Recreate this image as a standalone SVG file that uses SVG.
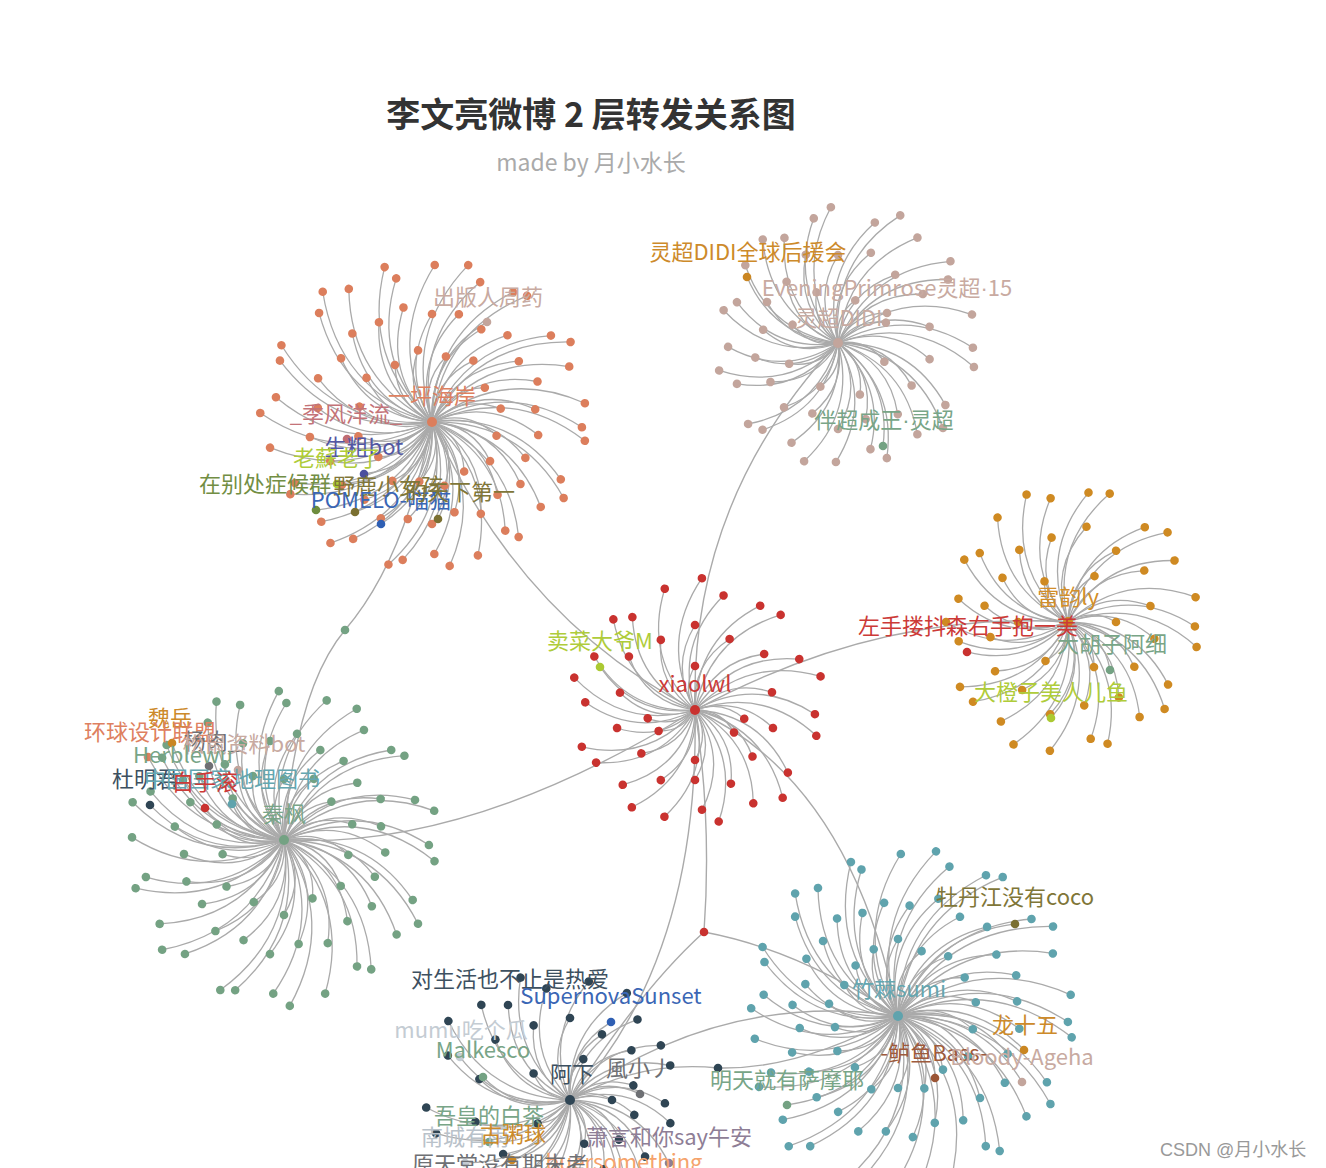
<svg xmlns="http://www.w3.org/2000/svg" xmlns:xlink="http://www.w3.org/1999/xlink" width="1326" height="1168" viewBox="0 0 1326 1168">
<style>
text{font-family:"Noto Sans CJK SC","Microsoft YaHei",sans-serif;font-size:22px;text-anchor:middle}
.ie{fill:none;stroke:#aaa;stroke-width:1.4}
.md{font-family:"Liberation Sans",sans-serif}
</style>
<defs>
<path id="c" d="M0,0Q.5,-.3 1,0" fill="none" stroke="#aaa" stroke-width="1.3" vector-effect="non-scaling-stroke"/>
</defs>
<rect width="1326" height="1168" fill="#fff"/>
<g id="connectors">
<g transform="translate(432,422)">
<use href="#c" transform="rotate(2)scale(150)"/><use href="#c" transform="rotate(7)scale(154)"/><use href="#c" transform="rotate(24)scale(141)"/><use href="#c" transform="rotate(30)scale(152)"/><use href="#c" transform="rotate(38)scale(138)"/><use href="#c" transform="rotate(53)scale(144)"/><use href="#c" transform="rotate(56)scale(131)"/><use href="#c" transform="rotate(71)scale(141)"/><use href="#c" transform="rotate(83)scale(145)"/><use href="#c" transform="rotate(89)scale(132)"/><use href="#c" transform="rotate(102)scale(141)"/><use href="#c" transform="rotate(107)scale(149)"/><use href="#c" transform="rotate(124)scale(141)"/><use href="#c" transform="rotate(130)scale(158)"/><use href="#c" transform="rotate(138)scale(149)"/><use href="#c" transform="rotate(153)scale(159)"/><use href="#c" transform="rotate(156)scale(150)"/><use href="#c" transform="rotate(171)scale(164)"/><use href="#c" transform="rotate(183)scale(172)"/><use href="#c" transform="rotate(189)scale(158)"/><use href="#c" transform="rotate(202)scale(164)"/><use href="#c" transform="rotate(207)scale(169)"/><use href="#c" transform="rotate(224)scale(157)"/><use href="#c" transform="rotate(230)scale(170)"/><use href="#c" transform="rotate(238)scale(157)"/><use href="#c" transform="rotate(253)scale(162)"/><use href="#c" transform="rotate(256)scale(148)"/><use href="#c" transform="rotate(271)scale(157)"/><use href="#c" transform="rotate(283)scale(161)"/><use href="#c" transform="rotate(289)scale(148)"/><use href="#c" transform="rotate(302)scale(153)"/><use href="#c" transform="rotate(307)scale(158)"/><use href="#c" transform="rotate(324)scale(147)"/><use href="#c" transform="rotate(330)scale(160)"/><use href="#c" transform="rotate(338)scale(148)"/><use href="#c" transform="rotate(353)scale(154)"/>
<use href="#c" transform="rotate(7)scale(107)"/><use href="#c" transform="rotate(21)scale(100)"/><use href="#c" transform="rotate(35)scale(108)"/><use href="#c" transform="rotate(48)scale(98)"/><use href="#c" transform="rotate(62)scale(104)"/><use href="#c" transform="rotate(76)scale(93)"/><use href="#c" transform="rotate(90)scale(102)"/><use href="#c" transform="rotate(104)scale(100)"/><use href="#c" transform="rotate(118)scale(109)"/><use href="#c" transform="rotate(131)scale(103)"/><use href="#c" transform="rotate(145)scale(110)"/><use href="#c" transform="rotate(159)scale(109)"/><use href="#c" transform="rotate(173)scale(123)"/><use href="#c" transform="rotate(187)scale(115)"/><use href="#c" transform="rotate(201)scale(122)"/><use href="#c" transform="rotate(215)scale(111)"/><use href="#c" transform="rotate(228)scale(119)"/><use href="#c" transform="rotate(242)scale(113)"/><use href="#c" transform="rotate(256)scale(118)"/><use href="#c" transform="rotate(270)scale(108)"/><use href="#c" transform="rotate(284)scale(111)"/><use href="#c" transform="rotate(298)scale(105)"/><use href="#c" transform="rotate(311)scale(115)"/><use href="#c" transform="rotate(325)scale(106)"/><use href="#c" transform="rotate(339)scale(113)"/><use href="#c" transform="rotate(353)scale(104)"/>
<use href="#c" transform="rotate(12)scale(66)"/><use href="#c" transform="rotate(34)scale(70)"/><use href="#c" transform="rotate(57)scale(59)"/><use href="#c" transform="rotate(79)scale(65)"/><use href="#c" transform="rotate(102)scale(61)"/><use href="#c" transform="rotate(124)scale(71)"/><use href="#c" transform="rotate(147)scale(64)"/><use href="#c" transform="rotate(169)scale(75)"/><use href="#c" transform="rotate(192)scale(74)"/><use href="#c" transform="rotate(214)scale(79)"/><use href="#c" transform="rotate(237)scale(68)"/><use href="#c" transform="rotate(259)scale(73)"/><use href="#c" transform="rotate(282)scale(67)"/><use href="#c" transform="rotate(304)scale(74)"/><use href="#c" transform="rotate(327)scale(63)"/><use href="#c" transform="rotate(349)scale(70)"/>
<use href="#c" transform="rotate(-61.2)scale(114)"/><use href="#c" transform="rotate(168.7)scale(86.7)"/><use href="#c" transform="rotate(142.6)scale(85.6)"/><use href="#c" transform="rotate(146.9)scale(113.4)"/><use href="#c" transform="rotate(142.8)scale(145.6)"/><use href="#c" transform="rotate(130.6)scale(118.4)"/><use href="#c" transform="rotate(116.6)scale(114)"/><use href="#c" transform="rotate(86.5)scale(97.2)"/>
</g>
<g transform="translate(838,343)">
<use href="#c" transform="rotate(2)scale(135)"/><use href="#c" transform="rotate(10)scale(138)"/><use href="#c" transform="rotate(30)scale(124)"/><use href="#c" transform="rotate(39)scale(135)"/><use href="#c" transform="rotate(49)scale(121)"/><use href="#c" transform="rotate(67)scale(125)"/><use href="#c" transform="rotate(73)scale(111)"/><use href="#c" transform="rotate(91)scale(119)"/><use href="#c" transform="rotate(106)scale(123)"/><use href="#c" transform="rotate(115)scale(110)"/><use href="#c" transform="rotate(131)scale(115)"/><use href="#c" transform="rotate(138)scale(121)"/><use href="#c" transform="rotate(158)scale(109)"/><use href="#c" transform="rotate(167)scale(122)"/><use href="#c" transform="rotate(178)scale(110)"/><use href="#c" transform="rotate(196)scale(119)"/><use href="#c" transform="rotate(202)scale(109)"/><use href="#c" transform="rotate(220)scale(121)"/><use href="#c" transform="rotate(234)scale(128)"/><use href="#c" transform="rotate(243)scale(118)"/><use href="#c" transform="rotate(259)scale(127)"/><use href="#c" transform="rotate(267)scale(136)"/><use href="#c" transform="rotate(287)scale(126)"/><use href="#c" transform="rotate(296)scale(142)"/><use href="#c" transform="rotate(307)scale(132)"/><use href="#c" transform="rotate(324)scale(139)"/><use href="#c" transform="rotate(330)scale(127)"/><use href="#c" transform="rotate(348)scale(137)"/>
<use href="#c" transform="rotate(10)scale(93)"/><use href="#c" transform="rotate(30)scale(85)"/><use href="#c" transform="rotate(50)scale(93)"/><use href="#c" transform="rotate(70)scale(81)"/><use href="#c" transform="rotate(90)scale(86)"/><use href="#c" transform="rotate(110)scale(75)"/><use href="#c" transform="rotate(130)scale(84)"/><use href="#c" transform="rotate(150)scale(78)"/><use href="#c" transform="rotate(170)scale(84)"/><use href="#c" transform="rotate(190)scale(76)"/><use href="#c" transform="rotate(210)scale(82)"/><use href="#c" transform="rotate(230)scale(80)"/><use href="#c" transform="rotate(250)scale(94)"/><use href="#c" transform="rotate(270)scale(88)"/><use href="#c" transform="rotate(290)scale(96)"/><use href="#c" transform="rotate(310)scale(89)"/><use href="#c" transform="rotate(330)scale(98)"/><use href="#c" transform="rotate(350)scale(93)"/>
<use href="#c" transform="rotate(22)scale(50)"/><use href="#c" transform="rotate(67)scale(56)"/><use href="#c" transform="rotate(112)scale(47)"/><use href="#c" transform="rotate(157)scale(53)"/><use href="#c" transform="rotate(202)scale(49)"/><use href="#c" transform="rotate(247)scale(55)"/><use href="#c" transform="rotate(292)scale(46)"/><use href="#c" transform="rotate(337)scale(52)"/>
<use href="#c" transform="rotate(216)scale(112.4)"/><use href="#c" transform="rotate(328.5)scale(57.5)"/><use href="#c" transform="rotate(66.4)scale(112.4)"/>
</g>
<g transform="translate(695,710)">
<use href="#c" transform="rotate(2)scale(120)"/><use href="#c" transform="rotate(12)scale(124)"/><use href="#c" transform="rotate(34)scale(112)"/><use href="#c" transform="rotate(45)scale(124)"/><use href="#c" transform="rotate(58)scale(110)"/><use href="#c" transform="rotate(78)scale(114)"/><use href="#c" transform="rotate(86)scale(100)"/><use href="#c" transform="rotate(106)scale(111)"/><use href="#c" transform="rotate(123)scale(116)"/><use href="#c" transform="rotate(134)scale(104)"/><use href="#c" transform="rotate(152)scale(112)"/><use href="#c" transform="rotate(162)scale(119)"/><use href="#c" transform="rotate(184)scale(110)"/><use href="#c" transform="rotate(195)scale(125)"/><use href="#c" transform="rotate(208)scale(114)"/><use href="#c" transform="rotate(228)scale(122)"/><use href="#c" transform="rotate(236)scale(112)"/><use href="#c" transform="rotate(256)scale(125)"/><use href="#c" transform="rotate(273)scale(132)"/><use href="#c" transform="rotate(284)scale(118)"/><use href="#c" transform="rotate(302)scale(123)"/><use href="#c" transform="rotate(312)scale(128)"/><use href="#c" transform="rotate(334)scale(116)"/><use href="#c" transform="rotate(345)scale(130)"/>
<use href="#c" transform="rotate(13)scale(80)"/><use href="#c" transform="rotate(39)scale(74)"/><use href="#c" transform="rotate(64)scale(82)"/><use href="#c" transform="rotate(90)scale(70)"/><use href="#c" transform="rotate(116)scale(78)"/><use href="#c" transform="rotate(141)scale(69)"/><use href="#c" transform="rotate(167)scale(80)"/><use href="#c" transform="rotate(193)scale(77)"/><use href="#c" transform="rotate(219)scale(85)"/><use href="#c" transform="rotate(244)scale(78)"/><use href="#c" transform="rotate(270)scale(85)"/><use href="#c" transform="rotate(296)scale(79)"/><use href="#c" transform="rotate(321)scale(89)"/><use href="#c" transform="rotate(347)scale(79)"/>
<use href="#c" transform="rotate(30)scale(45)"/><use href="#c" transform="rotate(90)scale(50)"/><use href="#c" transform="rotate(150)scale(42)"/><use href="#c" transform="rotate(170)scale(48)"/><use href="#c" transform="rotate(270)scale(44)"/><use href="#c" transform="rotate(10)scale(50)"/>
<use href="#c" transform="rotate(204.4)scale(104)"/>
</g>
<g transform="translate(1068,622)">
<use href="#c" transform="rotate(2)scale(127)"/><use href="#c" transform="rotate(11)scale(131)"/><use href="#c" transform="rotate(32)scale(118)"/><use href="#c" transform="rotate(42)scale(130)"/><use href="#c" transform="rotate(53)scale(119)"/><use href="#c" transform="rotate(72)scale(128)"/><use href="#c" transform="rotate(79)scale(119)"/><use href="#c" transform="rotate(98)scale(130)"/><use href="#c" transform="rotate(114)scale(134)"/><use href="#c" transform="rotate(124)scale(120)"/><use href="#c" transform="rotate(140)scale(124)"/><use href="#c" transform="rotate(149)scale(126)"/><use href="#c" transform="rotate(170)scale(111)"/><use href="#c" transform="rotate(180)scale(122)"/><use href="#c" transform="rotate(192)scale(112)"/><use href="#c" transform="rotate(211)scale(121)"/><use href="#c" transform="rotate(218)scale(112)"/><use href="#c" transform="rotate(236)scale(126)"/><use href="#c" transform="rotate(252)scale(134)"/><use href="#c" transform="rotate(262)scale(125)"/><use href="#c" transform="rotate(279)scale(131)"/><use href="#c" transform="rotate(288)scale(135)"/><use href="#c" transform="rotate(309)scale(122)"/><use href="#c" transform="rotate(318)scale(134)"/><use href="#c" transform="rotate(330)scale(123)"/><use href="#c" transform="rotate(349)scale(130)"/>
<use href="#c" transform="rotate(11)scale(88)"/><use href="#c" transform="rotate(34)scale(80)"/><use href="#c" transform="rotate(56)scale(91)"/><use href="#c" transform="rotate(79)scale(85)"/><use href="#c" transform="rotate(101)scale(94)"/><use href="#c" transform="rotate(124)scale(82)"/><use href="#c" transform="rotate(146)scale(88)"/><use href="#c" transform="rotate(169)scale(79)"/><use href="#c" transform="rotate(191)scale(85)"/><use href="#c" transform="rotate(214)scale(79)"/><use href="#c" transform="rotate(236)scale(87)"/><use href="#c" transform="rotate(259)scale(86)"/><use href="#c" transform="rotate(281)scale(97)"/><use href="#c" transform="rotate(304)scale(86)"/><use href="#c" transform="rotate(326)scale(92)"/><use href="#c" transform="rotate(349)scale(84)"/>
<use href="#c" transform="rotate(0)scale(48)"/><use href="#c" transform="rotate(60)scale(52)"/><use href="#c" transform="rotate(120)scale(45)"/><use href="#c" transform="rotate(180)scale(50)"/><use href="#c" transform="rotate(240)scale(47)"/><use href="#c" transform="rotate(300)scale(53)"/>
<use href="#c" transform="rotate(163.5)scale(105)"/><use href="#c" transform="rotate(48.8)scale(64)"/><use href="#c" transform="rotate(100)scale(97.5)"/>
</g>
<g transform="translate(284,840)">
<use href="#c" transform="rotate(2)scale(145)"/><use href="#c" transform="rotate(8)scale(152)"/><use href="#c" transform="rotate(25)scale(142)"/><use href="#c" transform="rotate(32)scale(158)"/><use href="#c" transform="rotate(40)scale(147)"/><use href="#c" transform="rotate(56)scale(156)"/><use href="#c" transform="rotate(60)scale(146)"/><use href="#c" transform="rotate(75)scale(159)"/><use href="#c" transform="rotate(88)scale(166)"/><use href="#c" transform="rotate(94)scale(154)"/><use href="#c" transform="rotate(108)scale(158)"/><use href="#c" transform="rotate(113)scale(163)"/><use href="#c" transform="rotate(131)scale(151)"/><use href="#c" transform="rotate(138)scale(164)"/><use href="#c" transform="rotate(146)scale(150)"/><use href="#c" transform="rotate(162)scale(156)"/><use href="#c" transform="rotate(165)scale(143)"/><use href="#c" transform="rotate(181)scale(152)"/><use href="#c" transform="rotate(194)scale(156)"/><use href="#c" transform="rotate(200)scale(142)"/><use href="#c" transform="rotate(214)scale(147)"/><use href="#c" transform="rotate(219)scale(151)"/><use href="#c" transform="rotate(237)scale(140)"/><use href="#c" transform="rotate(244)scale(154)"/><use href="#c" transform="rotate(252)scale(142)"/><use href="#c" transform="rotate(268)scale(149)"/><use href="#c" transform="rotate(271)scale(137)"/><use href="#c" transform="rotate(287)scale(146)"/><use href="#c" transform="rotate(299)scale(150)"/><use href="#c" transform="rotate(306)scale(136)"/><use href="#c" transform="rotate(320)scale(140)"/><use href="#c" transform="rotate(325)scale(147)"/><use href="#c" transform="rotate(343)scale(137)"/><use href="#c" transform="rotate(349)scale(153)"/>
<use href="#c" transform="rotate(7)scale(102)"/><use href="#c" transform="rotate(22)scale(98)"/><use href="#c" transform="rotate(37)scale(110)"/><use href="#c" transform="rotate(52)scale(103)"/><use href="#c" transform="rotate(67)scale(112)"/><use href="#c" transform="rotate(82)scale(105)"/><use href="#c" transform="rotate(97)scale(115)"/><use href="#c" transform="rotate(112)scale(108)"/><use href="#c" transform="rotate(127)scale(114)"/><use href="#c" transform="rotate(142)scale(104)"/><use href="#c" transform="rotate(157)scale(106)"/><use href="#c" transform="rotate(172)scale(101)"/><use href="#c" transform="rotate(187)scale(110)"/><use href="#c" transform="rotate(202)scale(101)"/><use href="#c" transform="rotate(217)scale(106)"/><use href="#c" transform="rotate(232)scale(96)"/><use href="#c" transform="rotate(247)scale(105)"/><use href="#c" transform="rotate(262)scale(100)"/><use href="#c" transform="rotate(277)scale(107)"/><use href="#c" transform="rotate(292)scale(97)"/><use href="#c" transform="rotate(307)scale(99)"/><use href="#c" transform="rotate(322)scale(93)"/><use href="#c" transform="rotate(337)scale(105)"/><use href="#c" transform="rotate(352)scale(98)"/>
<use href="#c" transform="rotate(13)scale(66)"/><use href="#c" transform="rotate(39)scale(73)"/><use href="#c" transform="rotate(64)scale(65)"/><use href="#c" transform="rotate(90)scale(75)"/><use href="#c" transform="rotate(116)scale(69)"/><use href="#c" transform="rotate(141)scale(74)"/><use href="#c" transform="rotate(167)scale(63)"/><use href="#c" transform="rotate(193)scale(69)"/><use href="#c" transform="rotate(219)scale(66)"/><use href="#c" transform="rotate(244)scale(71)"/><use href="#c" transform="rotate(270)scale(61)"/><use href="#c" transform="rotate(296)scale(68)"/><use href="#c" transform="rotate(321)scale(61)"/><use href="#c" transform="rotate(347)scale(70)"/>
<use href="#c" transform="rotate(220.9)scale(148)"/><use href="#c" transform="rotate(211.4)scale(159)"/><use href="#c" transform="rotate(224.6)scale(105)"/><use href="#c" transform="rotate(236.7)scale(84)"/><use href="#c" transform="rotate(210.7)scale(117.5)"/><use href="#c" transform="rotate(194.6)scale(138.5)"/><use href="#c" transform="rotate(214.7)scale(63)"/><use href="#c" transform="rotate(202)scale(85)"/>
</g>
<g transform="translate(898,1016)">
<use href="#c" transform="rotate(2)scale(170)"/><use href="#c" transform="rotate(7)scale(175)"/><use href="#c" transform="rotate(24)scale(163)"/><use href="#c" transform="rotate(30)scale(176)"/><use href="#c" transform="rotate(38)scale(163)"/><use href="#c" transform="rotate(53)scale(169)"/><use href="#c" transform="rotate(56)scale(157)"/><use href="#c" transform="rotate(71)scale(167)"/><use href="#c" transform="rotate(83)scale(172)"/><use href="#c" transform="rotate(89)scale(159)"/><use href="#c" transform="rotate(102)scale(164)"/><use href="#c" transform="rotate(107)scale(169)"/><use href="#c" transform="rotate(124)scale(157)"/><use href="#c" transform="rotate(130)scale(170)"/><use href="#c" transform="rotate(138)scale(155)"/><use href="#c" transform="rotate(153)scale(156)"/><use href="#c" transform="rotate(156)scale(139)"/><use href="#c" transform="rotate(171)scale(145)"/><use href="#c" transform="rotate(183)scale(147)"/><use href="#c" transform="rotate(189)scale(136)"/><use href="#c" transform="rotate(202)scale(144)"/><use href="#c" transform="rotate(207)scale(152)"/><use href="#c" transform="rotate(224)scale(143)"/><use href="#c" transform="rotate(230)scale(160)"/><use href="#c" transform="rotate(238)scale(151)"/><use href="#c" transform="rotate(253)scale(161)"/><use href="#c" transform="rotate(256)scale(151)"/><use href="#c" transform="rotate(271)scale(162)"/><use href="#c" transform="rotate(283)scale(169)"/><use href="#c" transform="rotate(289)scale(158)"/><use href="#c" transform="rotate(302)scale(166)"/><use href="#c" transform="rotate(307)scale(174)"/><use href="#c" transform="rotate(324)scale(165)"/><use href="#c" transform="rotate(330)scale(179)"/><use href="#c" transform="rotate(338)scale(167)"/><use href="#c" transform="rotate(353)scale(174)"/>
<use href="#c" transform="rotate(6)scale(122)"/><use href="#c" transform="rotate(19)scale(116)"/><use href="#c" transform="rotate(32)scale(126)"/><use href="#c" transform="rotate(45)scale(116)"/><use href="#c" transform="rotate(58)scale(123)"/><use href="#c" transform="rotate(71)scale(113)"/><use href="#c" transform="rotate(83)scale(122)"/><use href="#c" transform="rotate(96)scale(116)"/><use href="#c" transform="rotate(109)scale(122)"/><use href="#c" transform="rotate(122)scale(113)"/><use href="#c" transform="rotate(135)scale(115)"/><use href="#c" transform="rotate(148)scale(105)"/><use href="#c" transform="rotate(161)scale(112)"/><use href="#c" transform="rotate(173)scale(99)"/><use href="#c" transform="rotate(186)scale(106)"/><use href="#c" transform="rotate(199)scale(98)"/><use href="#c" transform="rotate(212)scale(108)"/><use href="#c" transform="rotate(225)scale(106)"/><use href="#c" transform="rotate(238)scale(115)"/><use href="#c" transform="rotate(251)scale(109)"/><use href="#c" transform="rotate(263)scale(114)"/><use href="#c" transform="rotate(276)scale(111)"/><use href="#c" transform="rotate(289)scale(124)"/><use href="#c" transform="rotate(302)scale(117)"/><use href="#c" transform="rotate(315)scale(126)"/><use href="#c" transform="rotate(328)scale(116)"/><use href="#c" transform="rotate(341)scale(125)"/><use href="#c" transform="rotate(353)scale(120)"/>
<use href="#c" transform="rotate(10)scale(76)"/><use href="#c" transform="rotate(30)scale(81)"/><use href="#c" transform="rotate(50)scale(70)"/><use href="#c" transform="rotate(70)scale(77)"/><use href="#c" transform="rotate(90)scale(72)"/><use href="#c" transform="rotate(110)scale(78)"/><use href="#c" transform="rotate(130)scale(67)"/><use href="#c" transform="rotate(150)scale(70)"/><use href="#c" transform="rotate(170)scale(64)"/><use href="#c" transform="rotate(190)scale(70)"/><use href="#c" transform="rotate(210)scale(62)"/><use href="#c" transform="rotate(230)scale(66)"/><use href="#c" transform="rotate(250)scale(71)"/><use href="#c" transform="rotate(270)scale(77)"/><use href="#c" transform="rotate(290)scale(69)"/><use href="#c" transform="rotate(310)scale(78)"/><use href="#c" transform="rotate(330)scale(77)"/><use href="#c" transform="rotate(350)scale(79)"/>
<use href="#c" transform="rotate(321.8)scale(149)"/><use href="#c" transform="rotate(15.1)scale(130.5)"/><use href="#c" transform="rotate(59.2)scale(72.2)"/><use href="#c" transform="rotate(28)scale(140.5)"/><use href="#c" transform="rotate(141.3)scale(142)"/>
</g>
<g transform="translate(570,1100)">
<use href="#c" transform="rotate(2)scale(95)"/><use href="#c" transform="rotate(13)scale(103)"/><use href="#c" transform="rotate(37)scale(94)"/><use href="#c" transform="rotate(49)scale(110)"/><use href="#c" transform="rotate(63)scale(102)"/><use href="#c" transform="rotate(85)scale(112)"/><use href="#c" transform="rotate(94)scale(105)"/><use href="#c" transform="rotate(116)scale(126)"/><use href="#c" transform="rotate(134)scale(140)"/><use href="#c" transform="rotate(146)scale(130)"/><use href="#c" transform="rotate(166)scale(138)"/><use href="#c" transform="rotate(177)scale(144)"/><use href="#c" transform="rotate(200)scale(130)"/><use href="#c" transform="rotate(213)scale(145)"/><use href="#c" transform="rotate(227)scale(130)"/><use href="#c" transform="rotate(248)scale(132)"/><use href="#c" transform="rotate(258)scale(114)"/><use href="#c" transform="rotate(279)scale(120)"/><use href="#c" transform="rotate(298)scale(121)"/><use href="#c" transform="rotate(310)scale(105)"/><use href="#c" transform="rotate(329)scale(106)"/><use href="#c" transform="rotate(341)scale(106)"/>
<use href="#c" transform="rotate(13)scale(66)"/><use href="#c" transform="rotate(39)scale(63)"/><use href="#c" transform="rotate(64)scale(77)"/><use href="#c" transform="rotate(90)scale(72)"/><use href="#c" transform="rotate(116)scale(88)"/><use href="#c" transform="rotate(141)scale(86)"/><use href="#c" transform="rotate(167)scale(97)"/><use href="#c" transform="rotate(193)scale(93)"/><use href="#c" transform="rotate(219)scale(96)"/><use href="#c" transform="rotate(244)scale(83)"/><use href="#c" transform="rotate(270)scale(82)"/><use href="#c" transform="rotate(296)scale(73)"/><use href="#c" transform="rotate(321)scale(79)"/><use href="#c" transform="rotate(347)scale(65)"/>
<use href="#c" transform="rotate(0)scale(42)"/><use href="#c" transform="rotate(72)scale(46)"/><use href="#c" transform="rotate(144)scale(40)"/><use href="#c" transform="rotate(216)scale(45)"/><use href="#c" transform="rotate(288)scale(43)"/>
<use href="#c" transform="rotate(236.9)scale(113)"/><use href="#c" transform="rotate(297.7)scale(88)"/><use href="#c" transform="rotate(201.3)scale(118)"/><use href="#c" transform="rotate(194.8)scale(90)"/><use href="#c" transform="rotate(355)scale(70)"/><use href="#c" transform="rotate(152.6)scale(91)"/><use href="#c" transform="rotate(149)scale(122)"/><use href="#c" transform="rotate(134)scale(83.5)"/><use href="#c" transform="rotate(32.5)scale(117)"/><use href="#c" transform="rotate(57.6)scale(100.7)"/><use href="#c" transform="rotate(128.5)scale(112)"/>
</g>
<path class="ie" d="M432,422Q405,560 345,630Q295,690 284,840"/>
<path class="ie" d="M695,710Q520,620 432,422"/>
<path class="ie" d="M695,710Q690,500 838,343"/>
<path class="ie" d="M695,710Q880,610 1068,622"/>
<path class="ie" d="M695,710Q470,850 284,840"/>
<path class="ie" d="M695,710Q850,780 898,1016"/>
<path class="ie" d="M695,710Q712,820 704,932"/>
<path class="ie" d="M704,932Q640,990 570,1100"/>
<path class="ie" d="M704,932Q800,950 898,1016"/>
<path class="ie" d="M695,710Q700,960 570,1100"/>
<path class="ie" d="M570,1100Q720,990 898,1016"/>
<path class="ie" d="M570,1100Q640,1060 718,1068"/>
<path class="ie" d="M718,1068Q800,1070 898,1016"/>
</g>
<g id="nodes">
<g id="leaves-yipinghaian" transform="translate(432,422)" fill="#dc7e5c">
<circle id="a1" transform="rotate(2)" cx="150" r="4.3"/><circle id="a2" transform="rotate(7)" cx="154" r="4.3"/><circle id="a3" transform="rotate(24)" cx="141" r="4.3"/><circle id="a4" transform="rotate(30)" cx="152" r="4.3"/><circle id="a5" transform="rotate(38)" cx="138" r="4.3"/><circle id="a6" transform="rotate(53)" cx="144" r="4.3"/><circle id="a7" transform="rotate(56)" cx="131" r="4.3"/><circle id="a8" transform="rotate(71)" cx="141" r="4.3"/><circle id="a9" transform="rotate(83)" cx="145" r="4.3"/><circle id="a10" transform="rotate(89)" cx="132" r="4.3"/><circle id="a11" transform="rotate(102)" cx="141" r="4.3"/><circle id="a12" transform="rotate(107)" cx="149" r="4.3"/><circle id="a13" transform="rotate(124)" cx="141" r="4.3"/><circle id="a14" transform="rotate(130)" cx="158" r="4.3"/><circle id="a15" transform="rotate(138)" cx="149" r="4.3"/><circle id="a16" transform="rotate(153)" cx="159" r="4.3"/><circle id="a17" transform="rotate(156)" cx="150" r="4.3"/><circle id="a18" transform="rotate(171)" cx="164" r="4.3"/><circle id="a19" transform="rotate(183)" cx="172" r="4.3"/><circle id="a20" transform="rotate(189)" cx="158" r="4.3"/><circle id="a21" transform="rotate(202)" cx="164" r="4.3"/><circle id="a22" transform="rotate(207)" cx="169" r="4.3"/><circle id="a23" transform="rotate(224)" cx="157" r="4.3"/><circle id="a24" transform="rotate(230)" cx="170" r="4.3"/><circle id="a25" transform="rotate(238)" cx="157" r="4.3"/><circle id="a26" transform="rotate(253)" cx="162" r="4.3"/><circle id="a27" transform="rotate(256)" cx="148" r="4.3"/><circle id="a28" transform="rotate(271)" cx="157" r="4.3"/><circle id="a29" transform="rotate(283)" cx="161" r="4.3"/><circle id="a30" transform="rotate(289)" cx="148" r="4.3"/><circle id="a31" transform="rotate(302)" cx="153" r="4.3"/><circle id="a32" transform="rotate(307)" cx="158" r="4.3"/><circle id="a33" transform="rotate(324)" cx="147" r="4.3"/><circle id="a34" transform="rotate(330)" cx="160" r="4.3"/><circle id="a35" transform="rotate(338)" cx="148" r="4.3"/><circle id="a36" transform="rotate(353)" cx="154" r="4.3"/>
<circle id="a37" transform="rotate(7)" cx="107" r="4.3"/><circle id="a38" transform="rotate(21)" cx="100" r="4.3"/><circle id="a39" transform="rotate(35)" cx="108" r="4.3"/><circle id="a40" transform="rotate(48)" cx="98" r="4.3"/><circle id="a41" transform="rotate(62)" cx="104" r="4.3"/><circle id="a42" transform="rotate(76)" cx="93" r="4.3"/><circle id="a43" transform="rotate(90)" cx="102" r="4.3"/><circle id="a44" transform="rotate(104)" cx="100" r="4.3"/><circle id="a45" transform="rotate(118)" cx="109" r="4.3"/><circle id="a46" transform="rotate(131)" cx="103" r="4.3"/><circle id="a47" transform="rotate(145)" cx="110" r="4.3"/><circle id="a48" transform="rotate(159)" cx="109" r="4.3"/><circle id="a49" transform="rotate(173)" cx="123" r="4.3"/><circle id="a50" transform="rotate(187)" cx="115" r="4.3"/><circle id="a51" transform="rotate(201)" cx="122" r="4.3"/><circle id="a52" transform="rotate(215)" cx="111" r="4.3"/><circle id="a53" transform="rotate(228)" cx="119" r="4.3"/><circle id="a54" transform="rotate(242)" cx="113" r="4.3"/><circle id="a55" transform="rotate(256)" cx="118" r="4.3"/><circle id="a56" transform="rotate(270)" cx="108" r="4.3"/><circle id="a57" transform="rotate(284)" cx="111" r="4.3"/><circle id="a58" transform="rotate(298)" cx="105" r="4.3"/><circle id="a59" transform="rotate(311)" cx="115" r="4.3"/><circle id="a60" transform="rotate(325)" cx="106" r="4.3"/><circle id="a61" transform="rotate(339)" cx="113" r="4.3"/><circle id="a62" transform="rotate(353)" cx="104" r="4.3"/>
<circle id="a63" transform="rotate(12)" cx="66" r="4.3"/><circle id="a64" transform="rotate(34)" cx="70" r="4.3"/><circle id="a65" transform="rotate(57)" cx="59" r="4.3"/><circle id="a66" transform="rotate(79)" cx="65" r="4.3"/><circle id="a67" transform="rotate(102)" cx="61" r="4.3"/><circle id="a68" transform="rotate(124)" cx="71" r="4.3"/><circle id="a69" transform="rotate(147)" cx="64" r="4.3"/><circle id="a70" transform="rotate(169)" cx="75" r="4.3"/><circle id="a71" transform="rotate(192)" cx="74" r="4.3"/><circle id="a72" transform="rotate(214)" cx="79" r="4.3"/><circle id="a73" transform="rotate(237)" cx="68" r="4.3"/><circle id="a74" transform="rotate(259)" cx="73" r="4.3"/><circle id="a75" transform="rotate(282)" cx="67" r="4.3"/><circle id="a76" transform="rotate(304)" cx="74" r="4.3"/><circle id="a77" transform="rotate(327)" cx="63" r="4.3"/><circle id="a78" transform="rotate(349)" cx="70" r="4.3"/>
</g>
<g id="leaves-lingchaodidi" transform="translate(838,343)" fill="#c3a59c">
<circle id="b1" transform="rotate(2)" cx="135" r="4.3"/><circle id="b2" transform="rotate(10)" cx="138" r="4.3"/><circle id="b3" transform="rotate(30)" cx="124" r="4.3"/><circle id="b4" transform="rotate(39)" cx="135" r="4.3"/><circle id="b5" transform="rotate(49)" cx="121" r="4.3"/><circle id="b6" transform="rotate(67)" cx="125" r="4.3"/><circle id="b7" transform="rotate(73)" cx="111" r="4.3"/><circle id="b8" transform="rotate(91)" cx="119" r="4.3"/><circle id="b9" transform="rotate(106)" cx="123" r="4.3"/><circle id="b10" transform="rotate(115)" cx="110" r="4.3"/><circle id="b11" transform="rotate(131)" cx="115" r="4.3"/><circle id="b12" transform="rotate(138)" cx="121" r="4.3"/><circle id="b13" transform="rotate(158)" cx="109" r="4.3"/><circle id="b14" transform="rotate(167)" cx="122" r="4.3"/><circle id="b15" transform="rotate(178)" cx="110" r="4.3"/><circle id="b16" transform="rotate(196)" cx="119" r="4.3"/><circle id="b17" transform="rotate(202)" cx="109" r="4.3"/><circle id="b18" transform="rotate(220)" cx="121" r="4.3"/><circle id="b19" transform="rotate(234)" cx="128" r="4.3"/><circle id="b20" transform="rotate(243)" cx="118" r="4.3"/><circle id="b21" transform="rotate(259)" cx="127" r="4.3"/><circle id="b22" transform="rotate(267)" cx="136" r="4.3"/><circle id="b23" transform="rotate(287)" cx="126" r="4.3"/><circle id="b24" transform="rotate(296)" cx="142" r="4.3"/><circle id="b25" transform="rotate(307)" cx="132" r="4.3"/><circle id="b26" transform="rotate(324)" cx="139" r="4.3"/><circle id="b27" transform="rotate(330)" cx="127" r="4.3"/><circle id="b28" transform="rotate(348)" cx="137" r="4.3"/>
<circle id="b29" transform="rotate(10)" cx="93" r="4.3"/><circle id="b30" transform="rotate(30)" cx="85" r="4.3"/><circle id="b31" transform="rotate(50)" cx="93" r="4.3"/><circle id="b32" transform="rotate(70)" cx="81" r="4.3"/><circle id="b33" transform="rotate(90)" cx="86" r="4.3"/><circle id="b34" transform="rotate(110)" cx="75" r="4.3"/><circle id="b35" transform="rotate(130)" cx="84" r="4.3"/><circle id="b36" transform="rotate(150)" cx="78" r="4.3"/><circle id="b37" transform="rotate(170)" cx="84" r="4.3"/><circle id="b38" transform="rotate(190)" cx="76" r="4.3"/><circle id="b39" transform="rotate(210)" cx="82" r="4.3"/><circle id="b40" transform="rotate(230)" cx="80" r="4.3"/><circle id="b41" transform="rotate(250)" cx="94" r="4.3"/><circle id="b42" transform="rotate(270)" cx="88" r="4.3"/><circle id="b43" transform="rotate(290)" cx="96" r="4.3"/><circle id="b44" transform="rotate(310)" cx="89" r="4.3"/><circle id="b45" transform="rotate(330)" cx="98" r="4.3"/><circle id="b46" transform="rotate(350)" cx="93" r="4.3"/>
<circle id="b47" transform="rotate(22)" cx="50" r="4.3"/><circle id="b48" transform="rotate(67)" cx="56" r="4.3"/><circle id="b49" transform="rotate(112)" cx="47" r="4.3"/><circle id="b50" transform="rotate(157)" cx="53" r="4.3"/><circle id="b51" transform="rotate(202)" cx="49" r="4.3"/><circle id="b52" transform="rotate(247)" cx="55" r="4.3"/><circle id="b53" transform="rotate(292)" cx="46" r="4.3"/><circle id="b54" transform="rotate(337)" cx="52" r="4.3"/>
</g>
<g id="leaves-xiaolwl" transform="translate(695,710)" fill="#c9322f">
<circle id="c1" transform="rotate(2)" cx="120" r="4.3"/><circle id="c2" transform="rotate(12)" cx="124" r="4.3"/><circle id="c3" transform="rotate(34)" cx="112" r="4.3"/><circle id="c4" transform="rotate(45)" cx="124" r="4.3"/><circle id="c5" transform="rotate(58)" cx="110" r="4.3"/><circle id="c6" transform="rotate(78)" cx="114" r="4.3"/><circle id="c7" transform="rotate(86)" cx="100" r="4.3"/><circle id="c8" transform="rotate(106)" cx="111" r="4.3"/><circle id="c9" transform="rotate(123)" cx="116" r="4.3"/><circle id="c10" transform="rotate(134)" cx="104" r="4.3"/><circle id="c11" transform="rotate(152)" cx="112" r="4.3"/><circle id="c12" transform="rotate(162)" cx="119" r="4.3"/><circle id="c13" transform="rotate(184)" cx="110" r="4.3"/><circle id="c14" transform="rotate(195)" cx="125" r="4.3"/><circle id="c15" transform="rotate(208)" cx="114" r="4.3"/><circle id="c16" transform="rotate(228)" cx="122" r="4.3"/><circle id="c17" transform="rotate(236)" cx="112" r="4.3"/><circle id="c18" transform="rotate(256)" cx="125" r="4.3"/><circle id="c19" transform="rotate(273)" cx="132" r="4.3"/><circle id="c20" transform="rotate(284)" cx="118" r="4.3"/><circle id="c21" transform="rotate(302)" cx="123" r="4.3"/><circle id="c22" transform="rotate(312)" cx="128" r="4.3"/><circle id="c23" transform="rotate(334)" cx="116" r="4.3"/><circle id="c24" transform="rotate(345)" cx="130" r="4.3"/>
<circle id="c25" transform="rotate(13)" cx="80" r="4.3"/><circle id="c26" transform="rotate(39)" cx="74" r="4.3"/><circle id="c27" transform="rotate(64)" cx="82" r="4.3"/><circle id="c28" transform="rotate(90)" cx="70" r="4.3"/><circle id="c29" transform="rotate(116)" cx="78" r="4.3"/><circle id="c30" transform="rotate(141)" cx="69" r="4.3"/><circle id="c31" transform="rotate(167)" cx="80" r="4.3"/><circle id="c32" transform="rotate(193)" cx="77" r="4.3"/><circle id="c33" transform="rotate(219)" cx="85" r="4.3"/><circle id="c34" transform="rotate(244)" cx="78" r="4.3"/><circle id="c35" transform="rotate(270)" cx="85" r="4.3"/><circle id="c36" transform="rotate(296)" cx="79" r="4.3"/><circle id="c37" transform="rotate(321)" cx="89" r="4.3"/><circle id="c38" transform="rotate(347)" cx="79" r="4.3"/>
<circle id="c39" transform="rotate(30)" cx="45" r="4.3"/><circle id="c40" transform="rotate(90)" cx="50" r="4.3"/><circle id="c41" transform="rotate(150)" cx="42" r="4.3"/><circle id="c42" transform="rotate(170)" cx="48" r="4.3"/><circle id="c43" transform="rotate(270)" cx="44" r="4.3"/><circle id="c44" transform="rotate(10)" cx="50" r="4.3"/>
</g>
<g id="leaves-leiyunly" transform="translate(1068,622)" fill="#cf8a22">
<circle id="d1" transform="rotate(2)" cx="127" r="4.3"/><circle id="d2" transform="rotate(11)" cx="131" r="4.3"/><circle id="d3" transform="rotate(32)" cx="118" r="4.3"/><circle id="d4" transform="rotate(42)" cx="130" r="4.3"/><circle id="d5" transform="rotate(53)" cx="119" r="4.3"/><circle id="d6" transform="rotate(72)" cx="128" r="4.3"/><circle id="d7" transform="rotate(79)" cx="119" r="4.3"/><circle id="d8" transform="rotate(98)" cx="130" r="4.3"/><circle id="d9" transform="rotate(114)" cx="134" r="4.3"/><circle id="d10" transform="rotate(124)" cx="120" r="4.3"/><circle id="d11" transform="rotate(140)" cx="124" r="4.3"/><circle id="d12" transform="rotate(149)" cx="126" r="4.3"/><circle id="d13" transform="rotate(170)" cx="111" r="4.3"/><circle id="d14" transform="rotate(180)" cx="122" r="4.3"/><circle id="d15" transform="rotate(192)" cx="112" r="4.3"/><circle id="d16" transform="rotate(211)" cx="121" r="4.3"/><circle id="d17" transform="rotate(218)" cx="112" r="4.3"/><circle id="d18" transform="rotate(236)" cx="126" r="4.3"/><circle id="d19" transform="rotate(252)" cx="134" r="4.3"/><circle id="d20" transform="rotate(262)" cx="125" r="4.3"/><circle id="d21" transform="rotate(279)" cx="131" r="4.3"/><circle id="d22" transform="rotate(288)" cx="135" r="4.3"/><circle id="d23" transform="rotate(309)" cx="122" r="4.3"/><circle id="d24" transform="rotate(318)" cx="134" r="4.3"/><circle id="d25" transform="rotate(330)" cx="123" r="4.3"/><circle id="d26" transform="rotate(349)" cx="130" r="4.3"/>
<circle id="d27" transform="rotate(11)" cx="88" r="4.3"/><circle id="d28" transform="rotate(34)" cx="80" r="4.3"/><circle id="d29" transform="rotate(56)" cx="91" r="4.3"/><circle id="d30" transform="rotate(79)" cx="85" r="4.3"/><circle id="d31" transform="rotate(101)" cx="94" r="4.3"/><circle id="d32" transform="rotate(124)" cx="82" r="4.3"/><circle id="d33" transform="rotate(146)" cx="88" r="4.3"/><circle id="d34" transform="rotate(169)" cx="79" r="4.3"/><circle id="d35" transform="rotate(191)" cx="85" r="4.3"/><circle id="d36" transform="rotate(214)" cx="79" r="4.3"/><circle id="d37" transform="rotate(236)" cx="87" r="4.3"/><circle id="d38" transform="rotate(259)" cx="86" r="4.3"/><circle id="d39" transform="rotate(281)" cx="97" r="4.3"/><circle id="d40" transform="rotate(304)" cx="86" r="4.3"/><circle id="d41" transform="rotate(326)" cx="92" r="4.3"/><circle id="d42" transform="rotate(349)" cx="84" r="4.3"/>
<circle id="d43" transform="rotate(0)" cx="48" r="4.3"/><circle id="d44" transform="rotate(60)" cx="52" r="4.3"/><circle id="d45" transform="rotate(120)" cx="45" r="4.3"/><circle id="d46" transform="rotate(180)" cx="50" r="4.3"/><circle id="d47" transform="rotate(240)" cx="47" r="4.3"/><circle id="d48" transform="rotate(300)" cx="53" r="4.3"/>
</g>
<g id="leaves-qinfeng" transform="translate(284,840)" fill="#74a283">
<circle id="e1" transform="rotate(2)" cx="145" r="4.3"/><circle id="e2" transform="rotate(8)" cx="152" r="4.3"/><circle id="e3" transform="rotate(25)" cx="142" r="4.3"/><circle id="e4" transform="rotate(32)" cx="158" r="4.3"/><circle id="e5" transform="rotate(40)" cx="147" r="4.3"/><circle id="e6" transform="rotate(56)" cx="156" r="4.3"/><circle id="e7" transform="rotate(60)" cx="146" r="4.3"/><circle id="e8" transform="rotate(75)" cx="159" r="4.3"/><circle id="e9" transform="rotate(88)" cx="166" r="4.3"/><circle id="e10" transform="rotate(94)" cx="154" r="4.3"/><circle id="e11" transform="rotate(108)" cx="158" r="4.3"/><circle id="e12" transform="rotate(113)" cx="163" r="4.3"/><circle id="e13" transform="rotate(131)" cx="151" r="4.3"/><circle id="e14" transform="rotate(138)" cx="164" r="4.3"/><circle id="e15" transform="rotate(146)" cx="150" r="4.3"/><circle id="e16" transform="rotate(162)" cx="156" r="4.3"/><circle id="e17" transform="rotate(165)" cx="143" r="4.3"/><circle id="e18" transform="rotate(181)" cx="152" r="4.3"/><circle id="e19" transform="rotate(194)" cx="156" r="4.3"/><circle id="e20" transform="rotate(200)" cx="142" r="4.3"/><circle id="e21" transform="rotate(214)" cx="147" r="4.3"/><circle id="e22" transform="rotate(219)" cx="151" r="4.3"/><circle id="e23" transform="rotate(237)" cx="140" r="4.3"/><circle id="e24" transform="rotate(244)" cx="154" r="4.3"/><circle id="e25" transform="rotate(252)" cx="142" r="4.3"/><circle id="e26" transform="rotate(268)" cx="149" r="4.3"/><circle id="e27" transform="rotate(271)" cx="137" r="4.3"/><circle id="e28" transform="rotate(287)" cx="146" r="4.3"/><circle id="e29" transform="rotate(299)" cx="150" r="4.3"/><circle id="e30" transform="rotate(306)" cx="136" r="4.3"/><circle id="e31" transform="rotate(320)" cx="140" r="4.3"/><circle id="e32" transform="rotate(325)" cx="147" r="4.3"/><circle id="e33" transform="rotate(343)" cx="137" r="4.3"/><circle id="e34" transform="rotate(349)" cx="153" r="4.3"/>
<circle id="e35" transform="rotate(7)" cx="102" r="4.3"/><circle id="e36" transform="rotate(22)" cx="98" r="4.3"/><circle id="e37" transform="rotate(37)" cx="110" r="4.3"/><circle id="e38" transform="rotate(52)" cx="103" r="4.3"/><circle id="e39" transform="rotate(67)" cx="112" r="4.3"/><circle id="e40" transform="rotate(82)" cx="105" r="4.3"/><circle id="e41" transform="rotate(97)" cx="115" r="4.3"/><circle id="e42" transform="rotate(112)" cx="108" r="4.3"/><circle id="e43" transform="rotate(127)" cx="114" r="4.3"/><circle id="e44" transform="rotate(142)" cx="104" r="4.3"/><circle id="e45" transform="rotate(157)" cx="106" r="4.3"/><circle id="e46" transform="rotate(172)" cx="101" r="4.3"/><circle id="e47" transform="rotate(187)" cx="110" r="4.3"/><circle id="e48" transform="rotate(202)" cx="101" r="4.3"/><circle id="e49" transform="rotate(217)" cx="106" r="4.3"/><circle id="e50" transform="rotate(232)" cx="96" r="4.3"/><circle id="e51" transform="rotate(247)" cx="105" r="4.3"/><circle id="e52" transform="rotate(262)" cx="100" r="4.3"/><circle id="e53" transform="rotate(277)" cx="107" r="4.3"/><circle id="e54" transform="rotate(292)" cx="97" r="4.3"/><circle id="e55" transform="rotate(307)" cx="99" r="4.3"/><circle id="e56" transform="rotate(322)" cx="93" r="4.3"/><circle id="e57" transform="rotate(337)" cx="105" r="4.3"/><circle id="e58" transform="rotate(352)" cx="98" r="4.3"/>
<circle id="e59" transform="rotate(13)" cx="66" r="4.3"/><circle id="e60" transform="rotate(39)" cx="73" r="4.3"/><circle id="e61" transform="rotate(64)" cx="65" r="4.3"/><circle id="e62" transform="rotate(90)" cx="75" r="4.3"/><circle id="e63" transform="rotate(116)" cx="69" r="4.3"/><circle id="e64" transform="rotate(141)" cx="74" r="4.3"/><circle id="e65" transform="rotate(167)" cx="63" r="4.3"/><circle id="e66" transform="rotate(193)" cx="69" r="4.3"/><circle id="e67" transform="rotate(219)" cx="66" r="4.3"/><circle id="e68" transform="rotate(244)" cx="71" r="4.3"/><circle id="e69" transform="rotate(270)" cx="61" r="4.3"/><circle id="e70" transform="rotate(296)" cx="68" r="4.3"/><circle id="e71" transform="rotate(321)" cx="61" r="4.3"/><circle id="e72" transform="rotate(347)" cx="70" r="4.3"/>
</g>
<g id="leaves-zhujisumi" transform="translate(898,1016)" fill="#5fa3ad">
<circle id="f1" transform="rotate(2)" cx="170" r="4.3"/><circle id="f2" transform="rotate(7)" cx="175" r="4.3"/><circle id="f3" transform="rotate(24)" cx="163" r="4.3"/><circle id="f4" transform="rotate(30)" cx="176" r="4.3"/><circle id="f5" transform="rotate(38)" cx="163" r="4.3"/><circle id="f6" transform="rotate(53)" cx="169" r="4.3"/><circle id="f7" transform="rotate(56)" cx="157" r="4.3"/><circle id="f8" transform="rotate(71)" cx="167" r="4.3"/><circle id="f9" transform="rotate(83)" cx="172" r="4.3"/><circle id="f10" transform="rotate(89)" cx="159" r="4.3"/><circle id="f11" transform="rotate(102)" cx="164" r="4.3"/><circle id="f12" transform="rotate(107)" cx="169" r="4.3"/><circle id="f13" transform="rotate(124)" cx="157" r="4.3"/><circle id="f14" transform="rotate(130)" cx="170" r="4.3"/><circle id="f15" transform="rotate(138)" cx="155" r="4.3"/><circle id="f16" transform="rotate(153)" cx="156" r="4.3"/><circle id="f17" transform="rotate(156)" cx="139" r="4.3"/><circle id="f18" transform="rotate(171)" cx="145" r="4.3"/><circle id="f19" transform="rotate(183)" cx="147" r="4.3"/><circle id="f20" transform="rotate(189)" cx="136" r="4.3"/><circle id="f21" transform="rotate(202)" cx="144" r="4.3"/><circle id="f22" transform="rotate(207)" cx="152" r="4.3"/><circle id="f23" transform="rotate(224)" cx="143" r="4.3"/><circle id="f24" transform="rotate(230)" cx="160" r="4.3"/><circle id="f25" transform="rotate(238)" cx="151" r="4.3"/><circle id="f26" transform="rotate(253)" cx="161" r="4.3"/><circle id="f27" transform="rotate(256)" cx="151" r="4.3"/><circle id="f28" transform="rotate(271)" cx="162" r="4.3"/><circle id="f29" transform="rotate(283)" cx="169" r="4.3"/><circle id="f30" transform="rotate(289)" cx="158" r="4.3"/><circle id="f31" transform="rotate(302)" cx="166" r="4.3"/><circle id="f32" transform="rotate(307)" cx="174" r="4.3"/><circle id="f33" transform="rotate(324)" cx="165" r="4.3"/><circle id="f34" transform="rotate(330)" cx="179" r="4.3"/><circle id="f35" transform="rotate(338)" cx="167" r="4.3"/><circle id="f36" transform="rotate(353)" cx="174" r="4.3"/>
<circle id="f37" transform="rotate(6)" cx="122" r="4.3"/><circle id="f38" transform="rotate(19)" cx="116" r="4.3"/><circle id="f39" transform="rotate(32)" cx="126" r="4.3"/><circle id="f40" transform="rotate(45)" cx="116" r="4.3"/><circle id="f41" transform="rotate(58)" cx="123" r="4.3"/><circle id="f42" transform="rotate(71)" cx="113" r="4.3"/><circle id="f43" transform="rotate(83)" cx="122" r="4.3"/><circle id="f44" transform="rotate(96)" cx="116" r="4.3"/><circle id="f45" transform="rotate(109)" cx="122" r="4.3"/><circle id="f46" transform="rotate(122)" cx="113" r="4.3"/><circle id="f47" transform="rotate(135)" cx="115" r="4.3"/><circle id="f48" transform="rotate(148)" cx="105" r="4.3"/><circle id="f49" transform="rotate(161)" cx="112" r="4.3"/><circle id="f50" transform="rotate(173)" cx="99" r="4.3"/><circle id="f51" transform="rotate(186)" cx="106" r="4.3"/><circle id="f52" transform="rotate(199)" cx="98" r="4.3"/><circle id="f53" transform="rotate(212)" cx="108" r="4.3"/><circle id="f54" transform="rotate(225)" cx="106" r="4.3"/><circle id="f55" transform="rotate(238)" cx="115" r="4.3"/><circle id="f56" transform="rotate(251)" cx="109" r="4.3"/><circle id="f57" transform="rotate(263)" cx="114" r="4.3"/><circle id="f58" transform="rotate(276)" cx="111" r="4.3"/><circle id="f59" transform="rotate(289)" cx="124" r="4.3"/><circle id="f60" transform="rotate(302)" cx="117" r="4.3"/><circle id="f61" transform="rotate(315)" cx="126" r="4.3"/><circle id="f62" transform="rotate(328)" cx="116" r="4.3"/><circle id="f63" transform="rotate(341)" cx="125" r="4.3"/><circle id="f64" transform="rotate(353)" cx="120" r="4.3"/>
<circle id="f65" transform="rotate(10)" cx="76" r="4.3"/><circle id="f66" transform="rotate(30)" cx="81" r="4.3"/><circle id="f67" transform="rotate(50)" cx="70" r="4.3"/><circle id="f68" transform="rotate(70)" cx="77" r="4.3"/><circle id="f69" transform="rotate(90)" cx="72" r="4.3"/><circle id="f70" transform="rotate(110)" cx="78" r="4.3"/><circle id="f71" transform="rotate(130)" cx="67" r="4.3"/><circle id="f72" transform="rotate(150)" cx="70" r="4.3"/><circle id="f73" transform="rotate(170)" cx="64" r="4.3"/><circle id="f74" transform="rotate(190)" cx="70" r="4.3"/><circle id="f75" transform="rotate(210)" cx="62" r="4.3"/><circle id="f76" transform="rotate(230)" cx="66" r="4.3"/><circle id="f77" transform="rotate(250)" cx="71" r="4.3"/><circle id="f78" transform="rotate(270)" cx="77" r="4.3"/><circle id="f79" transform="rotate(290)" cx="69" r="4.3"/><circle id="f80" transform="rotate(310)" cx="78" r="4.3"/><circle id="f81" transform="rotate(330)" cx="77" r="4.3"/><circle id="f82" transform="rotate(350)" cx="79" r="4.3"/>
</g>
<g id="leaves-axia" transform="translate(570,1100)" fill="#2f4554">
<circle id="g1" transform="rotate(2)" cx="95" r="4.3"/><circle id="g2" transform="rotate(13)" cx="103" r="4.3"/><circle id="g3" transform="rotate(37)" cx="94" r="4.3"/><circle id="g4" transform="rotate(49)" cx="110" r="4.3"/><circle id="g5" transform="rotate(63)" cx="102" r="4.3"/><circle id="g6" transform="rotate(85)" cx="112" r="4.3"/><circle id="g7" transform="rotate(94)" cx="105" r="4.3"/><circle id="g8" transform="rotate(116)" cx="126" r="4.3"/><circle id="g9" transform="rotate(134)" cx="140" r="4.3"/><circle id="g10" transform="rotate(146)" cx="130" r="4.3"/><circle id="g11" transform="rotate(166)" cx="138" r="4.3"/><circle id="g12" transform="rotate(177)" cx="144" r="4.3"/><circle id="g13" transform="rotate(200)" cx="130" r="4.3"/><circle id="g14" transform="rotate(213)" cx="145" r="4.3"/><circle id="g15" transform="rotate(227)" cx="130" r="4.3"/><circle id="g16" transform="rotate(248)" cx="132" r="4.3"/><circle id="g17" transform="rotate(258)" cx="114" r="4.3"/><circle id="g18" transform="rotate(279)" cx="120" r="4.3"/><circle id="g19" transform="rotate(298)" cx="121" r="4.3"/><circle id="g20" transform="rotate(310)" cx="105" r="4.3"/><circle id="g21" transform="rotate(329)" cx="106" r="4.3"/><circle id="g22" transform="rotate(341)" cx="106" r="4.3"/>
<circle id="g23" transform="rotate(13)" cx="66" r="4.3"/><circle id="g24" transform="rotate(39)" cx="63" r="4.3"/><circle id="g25" transform="rotate(64)" cx="77" r="4.3"/><circle id="g26" transform="rotate(90)" cx="72" r="4.3"/><circle id="g27" transform="rotate(116)" cx="88" r="4.3"/><circle id="g28" transform="rotate(141)" cx="86" r="4.3"/><circle id="g29" transform="rotate(167)" cx="97" r="4.3"/><circle id="g30" transform="rotate(193)" cx="93" r="4.3"/><circle id="g31" transform="rotate(219)" cx="96" r="4.3"/><circle id="g32" transform="rotate(244)" cx="83" r="4.3"/><circle id="g33" transform="rotate(270)" cx="82" r="4.3"/><circle id="g34" transform="rotate(296)" cx="73" r="4.3"/><circle id="g35" transform="rotate(321)" cx="79" r="4.3"/><circle id="g36" transform="rotate(347)" cx="65" r="4.3"/>
<circle id="g37" transform="rotate(0)" cx="42" r="4.3"/><circle id="g38" transform="rotate(72)" cx="46" r="4.3"/><circle id="g39" transform="rotate(144)" cx="40" r="4.3"/><circle id="g40" transform="rotate(216)" cx="45" r="4.3"/><circle id="g41" transform="rotate(288)" cx="43" r="4.3"/>
</g>
<circle id="link-green" cx="345" cy="630" r="4.3" fill="#74a283"/>
<circle id="link-red" cx="704" cy="932" r="4.3" fill="#c9322f"/>
<circle id="link-dark" cx="718" cy="1068" r="4.3" fill="#2f4554"/>
<circle id="n-buersomething" cx="624" cy="1185" r="4.3" fill="#f5a36c"/>
</g>
<g id="labelled-nodes">
<g id="n-yipinghaian"><circle cx="432" cy="422" r="5" fill="#dc7e5c"/><text x="432" y="404" fill="#de8060">一坪海岸</text></g>
<g id="n-chubanren"><circle cx="487" cy="322" r="4.3" fill="#c3a59c"/><text x="488" y="305" fill="#c8aaa1">出版人周药</text></g>
<g id="n-jifeng"><circle cx="347" cy="439" r="4.3" fill="#c06c72"/><text x="346" y="422" fill="#c47378">_季风洋流_</text></g>
<g id="n-shengcu"><circle cx="364" cy="474" r="4.3" fill="#4b4f9e"/><text x="364" y="455" fill="#5357a3">生粗bot</text></g>
<g id="n-laosu"><circle cx="337" cy="484" r="4.3" fill="#abc932"/><text x="337" y="466" fill="#afcc3a">老蘇老了</text></g>
<g id="n-zaibiechu"><circle cx="316" cy="510" r="4.3" fill="#6e8c3e"/><text x="265" y="492" fill="#728e44">在别处症候群</text></g>
<g id="n-yelu"><circle cx="355" cy="512" r="4.3" fill="#7a6f30"/><text x="388" y="494" fill="#7f7638">野鹿小女孩</text></g>
<g id="n-pomelo"><circle cx="381" cy="524" r="4.3" fill="#2f5fb3"/><text x="381" y="508" fill="#3a66b5">POMELO-喵猫</text></g>
<g id="n-tianxia"><circle cx="438" cy="519" r="4.3" fill="#7a6f30"/><text x="460" y="500" fill="#7f7638">的天下第一</text></g>
<g id="n-lingchaodidi"><circle cx="838" cy="343" r="5" fill="#c3a59c"/><text x="839" y="326" fill="#c8aaa1">灵超DIDI</text></g>
<g id="n-houyuanhui"><circle cx="747" cy="277" r="4.3" fill="#ca8622"/><text x="748" y="260" fill="#cd8a2a">灵超DIDI全球后援会</text></g>
<g id="n-evening"><circle cx="887" cy="313" r="4.3" fill="#c3a59c"/><text x="887" y="296" fill="#c8aaa1">EveningPrimrose灵超<tspan class="md">·</tspan>15</text></g>
<g id="n-banchao"><circle cx="883" cy="446" r="4.3" fill="#74a283"/><text x="884" y="428" fill="#78a587">伴超成王<tspan class="md">·</tspan>灵超</text></g>
<g id="n-xiaolwl"><circle cx="695" cy="710" r="5" fill="#c9322f"/><text x="695" y="692" fill="#cc3a37">xiaolwl</text></g>
<g id="n-maicai"><circle cx="600" cy="667" r="4.3" fill="#abc932"/><text x="600" y="649" fill="#afcc3a">卖菜大爷M</text></g>
<g id="n-leiyun"><circle cx="1068" cy="622" r="5" fill="#cf8a22"/><text x="1068" y="605" fill="#d28e2a">雷韵ly</text></g>
<g id="n-zuoshou"><circle cx="967" cy="652" r="4.3" fill="#c9322f"/><text x="968" y="634" fill="#cc3a37">左手搂抖森右手抱一美</text></g>
<g id="n-dahuzi"><circle cx="1110" cy="670" r="4.3" fill="#74a283"/><text x="1112" y="652" fill="#78a587">大胡子阿细</text></g>
<g id="n-dachengzi"><circle cx="1051" cy="718" r="4.3" fill="#abc932"/><text x="1051" y="700" fill="#afcc3a">大橙子美人儿鱼</text></g>
<g id="n-qinfeng"><circle cx="284" cy="840" r="5" fill="#74a283"/><text x="284" y="822" fill="#78a587">秦枫</text></g>
<g id="n-weiyue"><circle cx="172" cy="743" r="4.3" fill="#ca8622"/><text x="170" y="726" fill="#cd8a2a">魏岳</text></g>
<g id="n-huanqiu"><circle cx="148" cy="757" r="4.3" fill="#dc7e5c"/><text x="150" y="740" fill="#de8060">环球设计联盟</text></g>
<g id="n-yangrou"><circle cx="209" cy="766" r="4.3" fill="#6e7074"/><text x="212" y="749" fill="#6e7074">杨肉_</text></g>
<g id="n-songshu"><circle cx="238" cy="770" r="4.3" fill="#c3a59c"/><text x="244" y="752" fill="#c8aaa1">松鼠资料bot</text></g>
<g id="n-herblewu"><circle cx="183" cy="780" r="4.3" fill="#74a283"/><text x="183" y="763" fill="#78a587">Herblewu</text></g>
<g id="n-duming"><circle cx="150" cy="805" r="4.3" fill="#2f4554"/><text x="145" y="787" fill="#3d5060">杜明君</text></g>
<g id="n-zhongguo"><circle cx="232" cy="804" r="4.3" fill="#5fa3ad"/><text x="232" y="787" fill="#64a6b0">中国国家地理图书</text></g>
<g id="n-shougun"><circle cx="205" cy="808" r="4.3" fill="#c9322f"/><text x="205" y="790" fill="#cc3a37">白手滚</text></g>
<g id="n-zhuji"><circle cx="898" cy="1016" r="5" fill="#5fa3ad"/><text x="899" y="997" fill="#64a6b0">竹棘sumi</text></g>
<g id="n-mudanjiang"><circle cx="1015" cy="924" r="4.3" fill="#7a6f30"/><text x="1015" y="905" fill="#7f7638">牡丹江没有coco</text></g>
<g id="n-longshiwu"><circle cx="1024" cy="1050" r="4.3" fill="#ca8622"/><text x="1025" y="1033" fill="#cd8a2a">龙十五</text></g>
<g id="n-luyu"><circle cx="935" cy="1078" r="4.3" fill="#9b5535"/><text x="934" y="1061" fill="#9e5a3c">-鲈鱼Bass-</text></g>
<g id="n-bloody"><circle cx="1022" cy="1082" r="4.3" fill="#c3a59c"/><text x="1022" y="1065" fill="#c8aaa1">Bloody-Ageha</text></g>
<g id="n-mingtian"><circle cx="787" cy="1105" r="4.3" fill="#74a283"/><text x="787" y="1088" fill="#78a587">明天就有萨摩耶</text></g>
<g id="n-axia"><circle cx="570" cy="1100" r="5" fill="#2f4554"/><text x="572" y="1082" fill="#3d5060">阿下</text></g>
<g id="n-duishenghuo"><circle cx="508" cy="1005" r="4.3" fill="#2f4554"/><text x="510" y="987" fill="#3d5060">对生活也不止是热爱</text></g>
<g id="n-supernova"><circle cx="611" cy="1022" r="4.3" fill="#2f5fb3"/><text x="611" y="1004" fill="#3a66b5">SupernovaSunset</text></g>
<g id="n-mumu"><circle cx="460" cy="1057" r="4.3" fill="#c4ccd3"/><text x="461" y="1038" fill="#c4ccd3">mumu吃个瓜</text></g>
<g id="n-malkesco"><circle cx="483" cy="1077" r="4.3" fill="#74a283"/><text x="483" y="1058" fill="#78a587">Malkesco</text></g>
<g id="n-fengxiao"><circle cx="640" cy="1094" r="4.3" fill="#6e7074"/><text x="639" y="1076" fill="#6e7074">風小丿</text></g>
<g id="n-wuhuang"><circle cx="489" cy="1142" r="4.3" fill="#74a283"/><text x="489" y="1124" fill="#78a587">吾皇的白茶</text></g>
<g id="n-nancheng"><circle cx="465" cy="1163" r="4.3" fill="#c4ccd3"/><text x="465" y="1145" fill="#b9c2ca">南城有雨</text></g>
<g id="n-guzhou"><circle cx="512" cy="1160" r="4.3" fill="#ca8622"/><text x="513" y="1142" fill="#cd8a2a">古粥球</text></g>
<g id="n-xiaoyan"><circle cx="669" cy="1163" r="4.3" fill="#8e7e96"/><text x="669" y="1145" fill="#8e7e96">萧言和你say午安</text></g>
<text x="624" y="1170" fill="#f5a36c">buersomething</text>
<text x="500" y="1172" fill="#6e7074">原天堂没有期末考</text>
</g>
<g id="titles">
<text x="591" y="127" style="font-size:34px;font-weight:bold" fill="#333">李文亮微博 2 层转发关系图</text>
<text x="591" y="171" style="font-size:23px" fill="#aaa">made by 月小水长</text>
<text x="1160" y="1156" style="font-size:18px;text-anchor:start;font-family:'Liberation Sans','Noto Sans CJK SC',sans-serif" fill="#999">CSDN @月小水长</text>
</g>
</svg>
